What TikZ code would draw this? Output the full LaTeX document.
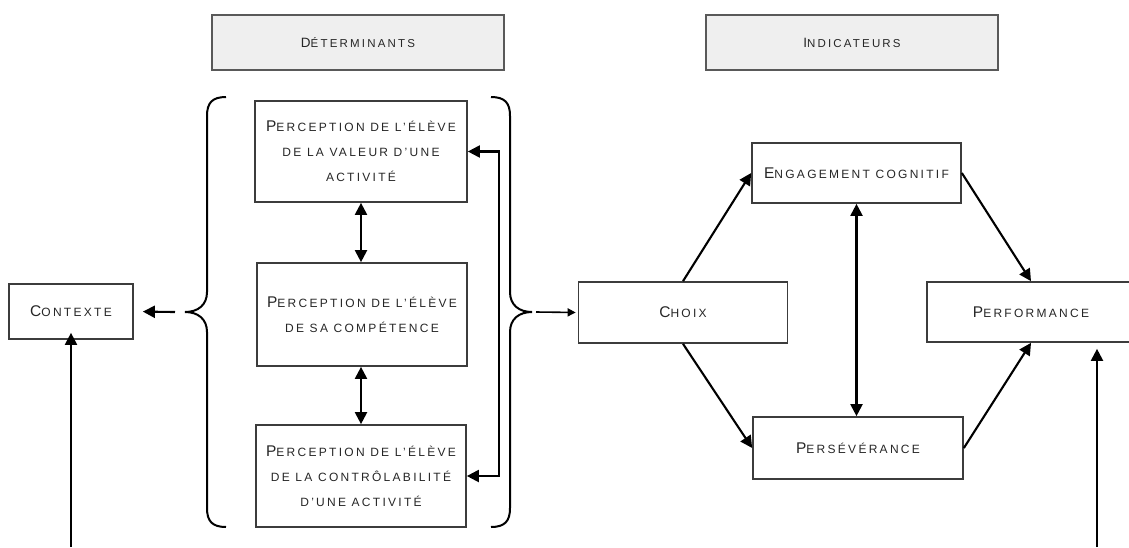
\documentclass[tikz,border=0pt]{standalone}
\usepackage{fontspec}
\setmainfont{Liberation Sans}
\newfontfamily\dfont[LetterSpace=19]{Liberation Sans}
\usetikzlibrary{arrows.meta}
\definecolor{txt}{HTML}{262626}
\definecolor{bord}{HTML}{3C3C3C}
\definecolor{hdr}{HTML}{EFEFEF}
\newcommand\smc[2]{{\fontsize{15.5}{25}\selectfont #1}{\fontsize{12}{25}\selectfont #2}}
\newcommand\hsmc[2]{{\fontsize{13.5}{25}\selectfont #1}{\fontsize{11.5}{25}\selectfont #2}}
\begin{document}
\begin{tikzpicture}[x=1pt,y=-1pt,
  box/.style={draw=bord,line width=1.7pt,rectangle,align=center,inner sep=0pt,
    text=txt,font=\dfont\fontsize{12}{25}\selectfont},
  hbox/.style={box,line width=2.3pt,draw=bord!85,fill=hdr},
  arr/.style={line width=2.1pt,-{Triangle[length=12pt,width=12pt]}},
  darr/.style={line width=2.1pt,{Triangle[length=12pt,width=12pt]}-{Triangle[length=12pt,width=12pt]}},
  brace/.style={line width=2pt,black}]
\useasboundingbox (0,0) rectangle (1129,547);
% headers
\node[hbox,minimum width=292pt,minimum height=55pt] (det) at (358,42.5) {\raisebox{-3pt}{\hsmc{D}{ÉTERMINANTS}}};
\node[hbox,minimum width=292pt,minimum height=55pt] (ind) at (852,42.5) {\raisebox{-3pt}{\hsmc{I}{NDICATEURS}}};
% determinant boxes
\node[box,minimum width=212pt,minimum height=101pt] (b1) at (361,151.5)
  {\smc{P}{ERCEPTION DE L’ÉLÈVE}\\ \smc{}{DE LA VALEUR D’UNE}\\ \smc{}{ACTIVITÉ}};
\node[box,minimum width=210pt,minimum height=103pt] (b2) at (362,314.5)
  {\smc{P}{ERCEPTION DE L’ÉLÈVE}\\ \smc{}{DE SA COMPÉTENCE}};
\node[box,minimum width=210pt,minimum height=102pt] (b3) at (361,476)
  {\smc{P}{ERCEPTION DE L’ÉLÈVE}\\ \smc{}{DE LA CONTRÔLABILITÉ}\\ \smc{}{D’UNE ACTIVITÉ}};
% context
\node[box,minimum width=124pt,minimum height=55pt] (ctx) at (71,311.5) {\smc{C}{ONTEXTE}};
% indicators
\node[box,minimum width=209pt,minimum height=61pt] (cho) at (683,312.5) {\smc{C}{HOIX}};
\node[box,minimum width=209pt,minimum height=60pt] (eng) at (856.5,173) {\smc{E}{NGAGEMENT COGNITIF}};
\node[box,minimum width=210pt,minimum height=62pt] (per) at (858,448) {\smc{P}{ERSÉVÉRANCE}};
\node[box,minimum width=208pt,minimum height=60pt] (perf) at (1031,312) {\smc{P}{ERFORMANCE}};
% braces
\draw[brace] (226,97) .. controls (212,97) and (207,103) .. (207,116) -- (207,292)
  .. controls (207,305) and (198,312) .. (185,312)
  .. controls (198,312) and (207,319) .. (207,332) -- (207,508)
  .. controls (207,521) and (212,527) .. (226,527);
\draw[brace] (491,97) .. controls (505,97) and (510,103) .. (510,116) -- (510,292)
  .. controls (510,305) and (519,312) .. (532,312)
  .. controls (519,312) and (510,319) .. (510,332) -- (510,508)
  .. controls (510,521) and (505,527) .. (491,527);
\coordinate (lbt) at (175,312);
\coordinate (rbt) at (536,312);
\coordinate (bl) at (71,547);
\coordinate (br) at (1097,547);
% connectors
\draw[darr] (b1.south) -- (b2.north -| b1.south);
\draw[darr] (b2.south -| b1.south) -- (b3.north -| b1.south);
\draw[darr] (b1.east) -- ++(31,0) |- (b3.east);
\draw[arr,shorten >=9pt] (lbt) -- (ctx.east);
\draw[line width=1.6pt,-{Triangle[length=8pt,width=8pt]},shorten >=2pt] (rbt) -- (cho.west);
\draw[arr] (bl) -- ([yshift=7pt]ctx.south);
\draw[arr] (cho.north) -- (eng.west);
\draw[arr] (cho.south) -- (per.west);
\draw[darr] (eng.south) -- (eng.south |- per.north);
\draw[arr] (eng.east) -- (perf.north);
\draw[arr] (per.east) -- (perf.south);
\draw[arr,shorten >=6pt] (br) -- (br |- perf.south);
\end{tikzpicture}
\end{document}
